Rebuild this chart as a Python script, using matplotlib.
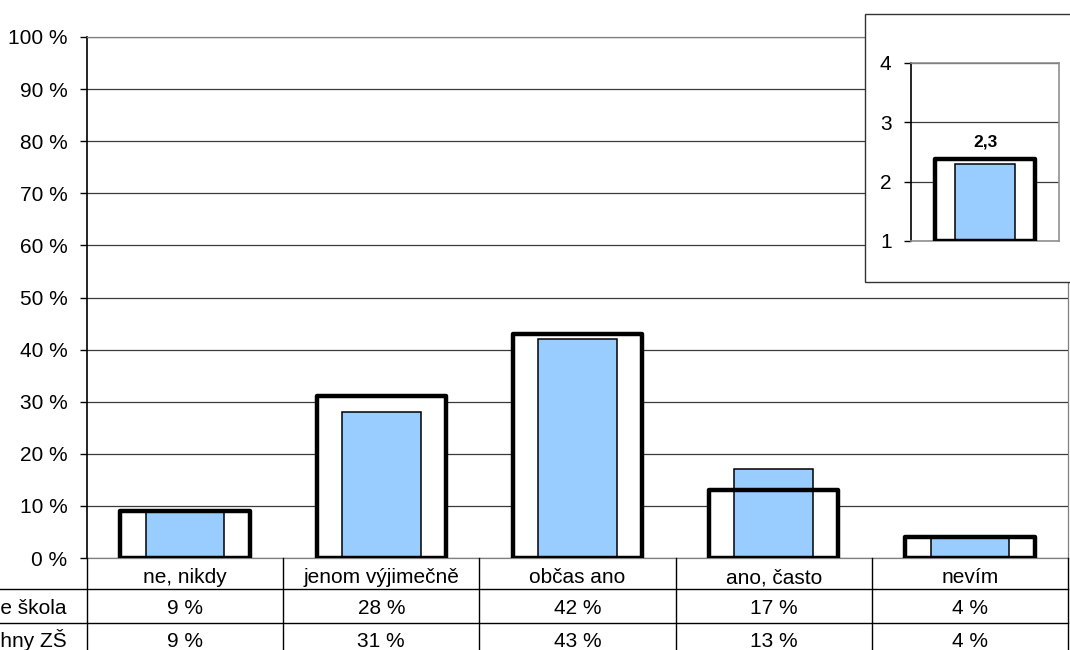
import matplotlib.pyplot as plt
from matplotlib.lines import Line2D
from matplotlib.transforms import blended_transform_factory

plt.rcParams['font.family'] = ['Liberation Sans', 'DejaVu Sans']

categories = ['ne, nikdy', 'jenom výjimečně', 'občas ano', 'ano, často', 'nevím']
row_names = ['Vaše škola', 'Všechny ZŠ']
skola = [9, 28, 42, 17, 4]
vsechny = [9, 31, 43, 13, 4]
prumer_skola = 2.3
prumer_vsechny = 2.38

W, H = 1070, 650
FS = 15
fig = plt.figure(figsize=(W / 100, H / 100), dpi=100)

# main plot area in pixel coordinates
L, R, T, B = 87, 1068, 37, 558
ax = fig.add_axes([L / W, 1 - B / H, (R - L) / W, (B - T) / H])
x = list(range(len(categories)))

ax.bar(x, vsechny, width=0.66, color='white', edgecolor='none', zorder=2)
ax.bar(x, skola, width=0.4, color='#99CCFF', edgecolor='black', linewidth=1.1, zorder=3)
ax.bar(x, vsechny, width=0.66, facecolor='none', edgecolor='black', linewidth=3.2,
       joinstyle='round', zorder=4)

ax.set_xlim(-0.5, len(categories) - 0.5)
ax.set_ylim(0, 100)
ax.set_yticks(range(0, 101, 10))
ax.set_yticklabels([f'{v} %' for v in range(0, 101, 10)], fontsize=FS)
ax.yaxis.grid(True, color='#3a3a3a', linewidth=0.9)
ax.set_axisbelow(True)
ax.set_xticks([])
ax.tick_params(axis='y', length=5, width=1, pad=9)
for s in ['top', 'right', 'bottom']:
    ax.spines[s].set_color('#808080')
    ax.spines[s].set_linewidth(0.9)
ax.spines['left'].set_linewidth(1.2)

# data table below the axis
tr = blended_transform_factory(ax.transData, fig.transFigure)
row_y = [558, 589, 623, 652]
fy = [1 - v / H for v in row_y]
base = [1 - v / H for v in (583, 614, 647)]
for i, cat in enumerate(categories):
    ax.text(i, base[0], cat, transform=tr, ha='center', va='baseline', fontsize=FS)
    ax.text(i, base[1], f'{skola[i]} %', transform=tr, ha='center', va='baseline', fontsize=FS)
    ax.text(i, base[2], f'{vsechny[i]} %', transform=tr, ha='center', va='baseline', fontsize=FS)
for j, name in enumerate(row_names):
    fig.text(67 / W, base[j + 1], name, ha='right', va='baseline', fontsize=FS)
for k in range(len(categories) + 1):
    fig.add_artist(Line2D([k - 0.5, k - 0.5], [fy[0], 0], transform=tr, color='black', linewidth=1))
for yy in fy[1:3]:
    fig.add_artist(Line2D([0, R / W], [yy, yy], transform=fig.transFigure, color='black', linewidth=1))

# inset with the average
box = plt.Rectangle((865 / W, 1 - 282 / H), 0.5, (282 - 14) / H, transform=fig.transFigure,
                    facecolor='white', edgecolor='#333333', linewidth=1, zorder=5)
fig.add_artist(box)
il, ir, it, ib = 911, 1059, 63, 241
ax2 = fig.add_axes([il / W, 1 - ib / H, (ir - il) / W, (ib - it) / H], zorder=6)
ax2.bar([0], [prumer_vsechny - 1], bottom=1, width=0.67, color='white', edgecolor='none', zorder=2)
ax2.bar([0], [prumer_skola - 1], bottom=1, width=0.4, color='#99CCFF', edgecolor='black',
        linewidth=1.1, zorder=3)
ax2.bar([0], [prumer_vsechny - 1], bottom=1, width=0.67, facecolor='none', edgecolor='black',
        linewidth=3.2, joinstyle='round', zorder=4)
ax2.text(0, prumer_vsechny + 0.17, f'{prumer_skola:.1f}'.replace('.', ','), ha='center', va='bottom',
         fontsize=12.5, fontweight='bold', zorder=5)
ax2.set_xlim(-0.5, 0.5)
ax2.set_ylim(1, 4)
ax2.set_yticks([1, 2, 3, 4])
ax2.set_yticklabels(['1', '2', '3', '4'], fontsize=FS)
ax2.set_xticks([])
ax2.yaxis.grid(True, color='#3a3a3a', linewidth=0.9)
ax2.set_axisbelow(True)
ax2.tick_params(axis='y', length=5, width=1, pad=9)
for s in ['top', 'right', 'bottom']:
    ax2.spines[s].set_color('#909090')
    ax2.spines[s].set_linewidth(1.2)
ax2.spines['left'].set_linewidth(1.2)

fig.savefig('out.png', dpi=100)
